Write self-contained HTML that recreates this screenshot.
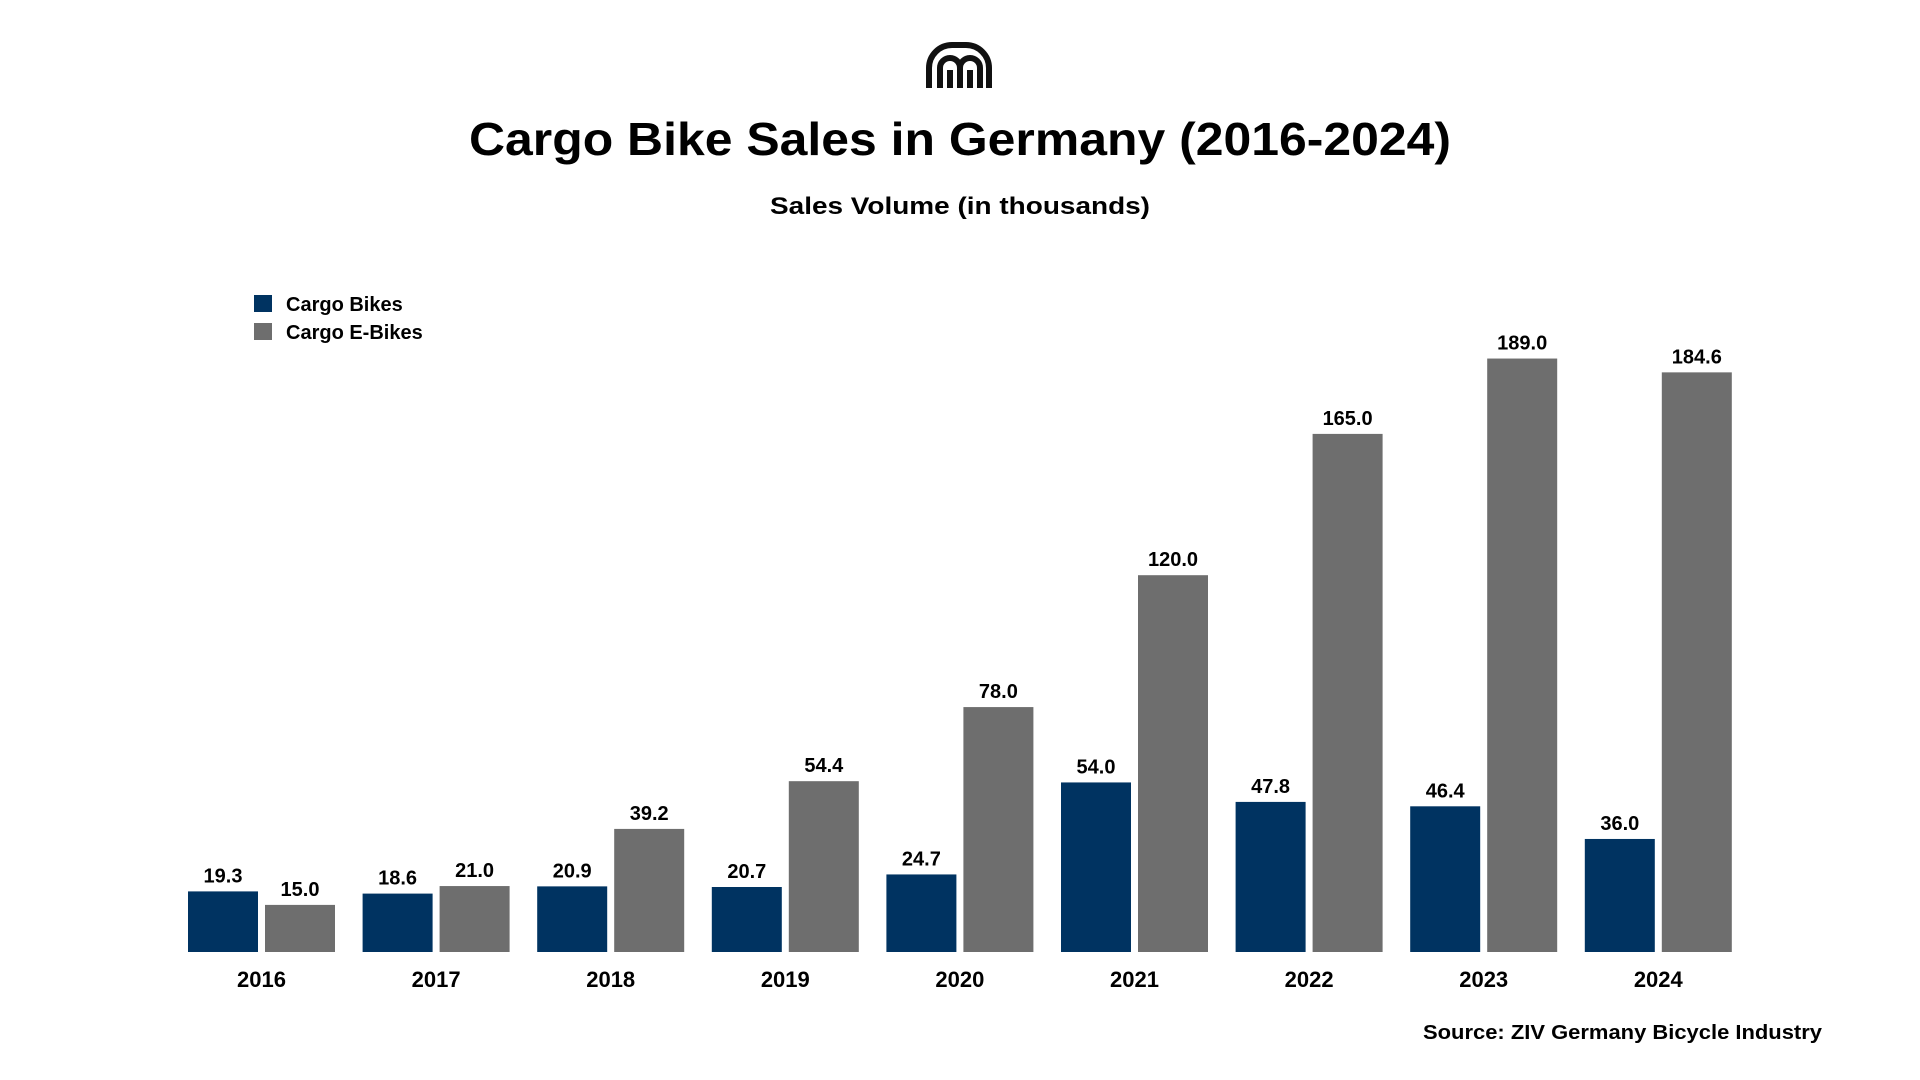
<!DOCTYPE html>
<html><head><meta charset="utf-8"><style>
html,body{margin:0;padding:0;background:#fff;}
svg{display:block;font-family:"Liberation Sans",Arial,sans-serif;font-weight:bold;}
</style></head><body>
<svg id="chart" width="1920" height="1080" viewBox="0 0 1920 1080">
  <g fill="none" stroke="#111" stroke-width="6">
    <path d="M929 88 V68 A23 23 0 0 1 952 45 H966 A23 23 0 0 1 989 68 V88"/>
    <path d="M940 88 V68 A10 10 0 0 1 960 68 V88"/>
    <path d="M960 68 A10 10 0 0 1 980 68 V88"/>
    <path d="M950 88 V70"/>
    <path d="M970 88 V70"/>
  </g>
  <text x="960" y="155" text-anchor="middle" font-size="46" textLength="982" lengthAdjust="spacingAndGlyphs">Cargo Bike Sales in Germany (2016-2024)</text>
  <text x="960" y="214" text-anchor="middle" font-size="24" textLength="380" lengthAdjust="spacingAndGlyphs">Sales Volume (in thousands)</text>
  <g>
    <rect x="254" y="295" width="18" height="17" fill="#003361"/>
    <text x="286" y="311" font-size="20">Cargo Bikes</text>
    <rect x="254" y="323" width="18" height="17" fill="#6e6e6e"/>
    <text x="286" y="339" font-size="20">Cargo E-Bikes</text>
  </g>
  <g id="bars"></g>
  <text x="1822" y="1039" text-anchor="end" font-size="20" textLength="399" lengthAdjust="spacingAndGlyphs">Source: ZIV Germany Bicycle Industry</text>
</svg>
<script>
const years = ["2016","2017","2018","2019","2020","2021","2022","2023","2024"];
const cargoBikes = [19.3,18.6,20.9,20.7,24.7,54.0,47.8,46.4,36.0];
const cargoEBikes = [15.0,21.0,39.2,54.4,78.0,120.0,165.0,189.0,184.6];

const baseY = 952, pxPerUnit = 3.14;
const x0 = 188, groupStep = 174.6, barW = 70, barGap = 7;
function yScale(v){ return baseY - v * pxPerUnit; }
function xGroup(i){ return x0 + i * groupStep; }

const NS = "http://www.w3.org/2000/svg";
const g = document.getElementById("bars");
function bar(x, v, color, name){
  const r = document.createElementNS(NS, "rect");
  r.setAttribute("x", x); r.setAttribute("y", yScale(v));
  r.setAttribute("width", barW); r.setAttribute("height", baseY - yScale(v));
  r.setAttribute("fill", color);
  
  
  g.appendChild(r);
  const t = document.createElementNS(NS, "text");
  t.setAttribute("x", x + barW/2); t.setAttribute("y", yScale(v) - 9);
  t.setAttribute("text-anchor", "middle"); t.setAttribute("font-size", "20");
  t.textContent = v.toFixed(1);
  
  
  g.appendChild(t);
}
years.forEach((yr, i) => {
  const gx = xGroup(i);
  bar(gx, cargoBikes[i], "#003361", "bar-cargo-bikes-" + yr);
  bar(gx + barW + barGap, cargoEBikes[i], "#6e6e6e", "bar-cargo-e-bikes-" + yr);
  const t = document.createElementNS(NS, "text");
  t.setAttribute("x", gx + barW + barGap/2); t.setAttribute("y", 987);
  t.setAttribute("text-anchor", "middle"); t.setAttribute("font-size", "22");
  t.textContent = yr;
  
  
  g.appendChild(t);
});
</script>
</body></html>
